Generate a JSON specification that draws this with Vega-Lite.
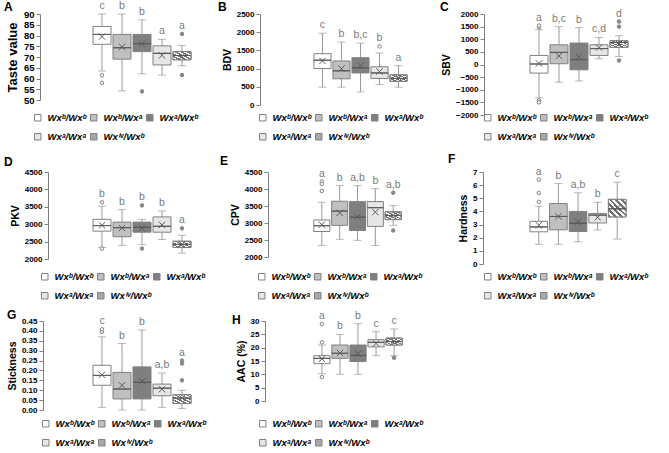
{
"$schema": "https://vega.github.io/schema/vega-lite/v6.json",
"background": "white",
"autosize": {"type": "none"},
"padding": {"left": 91, "top": 14, "right": 578, "bottom": 439},
"columns": 3,
"spacing": {"row": 57, "column": 119},
"bounds": "flush",
"align": {"row": "each", "column": "none"},
"resolve": {"scale": {"fill": "independent", "y": "independent", "x": "independent"}, "legend": {"fill": "independent"}},
"config": {
 "font": "Liberation Sans",
 "view": {"stroke": null},
 "range": {"category": ["#ffffff", "#c0c0c0", "#7f7f7f", "#e6e6e6", "#a8a8a8"]},
 "axis": {"grid": false, "domainColor": "#808080", "tickColor": "#808080", "tickSize": 4, "labelFont": "Liberation Sans", "labelFontSize": 8, "labelFontWeight": "bold", "labelColor": "#000000", "labelOverlap": false, "labelFlush": false, "labelPadding": 2, "titleFont": "Liberation Sans", "titleFontSize": 10.5, "titleFontWeight": "bold", "titleColor": "#000000", "titlePadding": 4},
 "legend": {"orient": "none", "direction": "horizontal", "columns": 3, "gridAlign": "all", "symbolType": "square", "symbolSize": 42, "symbolStrokeColor": "#808080", "symbolStrokeWidth": 1, "labelFont": "Liberation Sans", "labelFontSize": 9.5, "labelFontWeight": "bold", "labelFontStyle": "italic", "labelColor": "#000000", "labelOffset": 5, "columnPadding": -10, "rowPadding": 8, "padding": 0},
 "title": {"anchor": "start", "frame": "group", "font": "Liberation Sans", "fontSize": 12, "fontWeight": "bold", "color": "#000000", "offset": 0}
},
"datasets": {
 "stats": [
  {"p":"A","n":1,"g":"Wx\u1D47/Wx\u1D47","lo":63.5,"q1":75.9,"med":80.5,"q3":84.2,"hi":90,"mean":79.5,"mx":90,"sig":"c"},
  {"p":"A","n":2,"g":"Wx\u1D47/Wx\u1D43","lo":54.2,"q1":69,"med":74.3,"q3":80.5,"hi":90,"mean":74.7,"mx":90,"sig":"b"},
  {"p":"A","n":3,"g":"Wx\u1D43/Wx\u1D47","lo":62.2,"q1":72.5,"med":76.2,"q3":80.5,"hi":87.3,"mean":76.2,"mx":87.3,"sig":"b"},
  {"p":"A","n":4,"g":"Wx\u1D43/Wx\u1D43","lo":61.6,"q1":66.3,"med":71.7,"q3":75.2,"hi":78.2,"mean":70.8,"mx":78.2,"sig":"a"},
  {"p":"A","n":5,"g":"Wx\u2071\u1D5B/Wx\u1D47","lo":66,"q1":68.7,"med":70.7,"q3":72.5,"hi":75.4,"mean":70.3,"mx":80.7,"sig":"a"},
  {"p":"B","n":1,"g":"Wx\u1D47/Wx\u1D47","lo":490,"q1":1000,"med":1230,"q3":1410,"hi":1970,"mean":1210,"mx":1970,"sig":"c"},
  {"p":"B","n":2,"g":"Wx\u1D47/Wx\u1D43","lo":490,"q1":720,"med":940,"q3":1210,"hi":1730,"mean":1000,"mx":1730,"sig":"b"},
  {"p":"B","n":3,"g":"Wx\u1D43/Wx\u1D47","lo":360,"q1":880,"med":1020,"q3":1300,"hi":1700,"mean":1080,"mx":1700,"sig":"b,c"},
  {"p":"B","n":4,"g":"Wx\u1D43/Wx\u1D43","lo":560,"q1":730,"med":880,"q3":1050,"hi":1430,"mean":920,"mx":1610,"sig":"b"},
  {"p":"B","n":5,"g":"Wx\u2071\u1D5B/Wx\u1D47","lo":490,"q1":650,"med":730,"q3":830,"hi":1080,"mean":750,"mx":1080,"sig":"a"},
  {"p":"C","n":1,"g":"Wx\u1D47/Wx\u1D47","lo":-1320,"q1":-340,"med":20,"q3":360,"hi":1380,"mean":40,"mx":1540,"sig":"a"},
  {"p":"C","n":2,"g":"Wx\u1D47/Wx\u1D43","lo":-700,"q1":30,"med":480,"q3":780,"hi":1500,"mean":340,"mx":1500,"sig":"b,c"},
  {"p":"C","n":3,"g":"Wx\u1D43/Wx\u1D47","lo":-650,"q1":-210,"med":190,"q3":850,"hi":1460,"mean":310,"mx":1460,"sig":"b"},
  {"p":"C","n":4,"g":"Wx\u1D43/Wx\u1D43","lo":230,"q1":360,"med":630,"q3":780,"hi":1070,"mean":670,"mx":1070,"sig":"c,d"},
  {"p":"C","n":5,"g":"Wx\u2071\u1D5B/Wx\u1D47","lo":320,"q1":680,"med":870,"q3":940,"hi":1140,"mean":810,"mx":1700,"sig":"d"},
  {"p":"D","n":1,"g":"Wx\u1D47/Wx\u1D47","lo":2330,"q1":2800,"med":2960,"q3":3140,"hi":3520,"mean":2970,"mx":3630,"sig":"b"},
  {"p":"D","n":2,"g":"Wx\u1D47/Wx\u1D43","lo":2390,"q1":2640,"med":2900,"q3":3060,"hi":3420,"mean":2890,"mx":3420,"sig":"b"},
  {"p":"D","n":3,"g":"Wx\u1D43/Wx\u1D47","lo":2420,"q1":2770,"med":2910,"q3":3060,"hi":3140,"mean":2890,"mx":3540,"sig":"b"},
  {"p":"D","n":4,"g":"Wx\u1D43/Wx\u1D43","lo":2560,"q1":2770,"med":2940,"q3":3210,"hi":3380,"mean":2980,"mx":3380,"sig":"b"},
  {"p":"D","n":5,"g":"Wx\u2071\u1D5B/Wx\u1D47","lo":2170,"q1":2330,"med":2420,"q3":2510,"hi":2680,"mean":2420,"mx":2880,"sig":"a"},
  {"p":"E","n":1,"g":"Wx\u1D47/Wx\u1D47","lo":2340,"q1":2750,"med":2920,"q3":3090,"hi":3610,"mean":2950,"mx":4220,"sig":"a"},
  {"p":"E","n":2,"g":"Wx\u1D47/Wx\u1D43","lo":2520,"q1":2930,"med":3350,"q3":3640,"hi":4100,"mean":3300,"mx":4100,"sig":"b"},
  {"p":"E","n":3,"g":"Wx\u1D43/Wx\u1D47","lo":2490,"q1":2780,"med":3170,"q3":3630,"hi":4100,"mean":3180,"mx":4100,"sig":"a,b"},
  {"p":"E","n":4,"g":"Wx\u1D43/Wx\u1D43","lo":2340,"q1":2900,"med":3450,"q3":3630,"hi":4010,"mean":3320,"mx":4010,"sig":"b"},
  {"p":"E","n":5,"g":"Wx\u2071\u1D5B/Wx\u1D47","lo":2930,"q1":3100,"med":3220,"q3":3330,"hi":3510,"mean":3220,"mx":3890,"sig":"a,b"},
  {"p":"F","n":1,"g":"Wx\u1D47/Wx\u1D47","lo":1.5,"q1":2.45,"med":2.82,"q3":3.25,"hi":4.4,"mean":2.95,"mx":6.42,"sig":"a"},
  {"p":"F","n":2,"g":"Wx\u1D47/Wx\u1D43","lo":1.5,"q1":2.6,"med":3.62,"q3":4.6,"hi":6.12,"mean":3.62,"mx":6.12,"sig":"b"},
  {"p":"F","n":3,"g":"Wx\u1D43/Wx\u1D47","lo":1.7,"q1":2.47,"med":3.1,"q3":4.0,"hi":5.42,"mean":3.2,"mx":5.42,"sig":"a,b"},
  {"p":"F","n":4,"g":"Wx\u1D43/Wx\u1D43","lo":2.58,"q1":3.12,"med":3.72,"q3":3.85,"hi":4.7,"mean":3.55,"mx":4.7,"sig":"b"},
  {"p":"F","n":5,"g":"Wx\u2071\u1D5B/Wx\u1D47","lo":1.9,"q1":3.58,"med":4.2,"q3":4.92,"hi":6.22,"mean":4.25,"mx":6.22,"sig":"c"},
  {"p":"G","n":1,"g":"Wx\u1D47/Wx\u1D47","lo":0.013,"q1":0.125,"med":0.175,"q3":0.226,"hi":0.37,"mean":0.178,"mx":0.408,"sig":"c"},
  {"p":"G","n":2,"g":"Wx\u1D47/Wx\u1D43","lo":0,"q1":0.056,"med":0.106,"q3":0.19,"hi":0.336,"mean":0.125,"mx":0.336,"sig":"b"},
  {"p":"G","n":3,"g":"Wx\u1D43/Wx\u1D47","lo":0,"q1":0.056,"med":0.14,"q3":0.218,"hi":0.405,"mean":0.146,"mx":0.405,"sig":"b"},
  {"p":"G","n":4,"g":"Wx\u1D43/Wx\u1D43","lo":0.013,"q1":0.072,"med":0.11,"q3":0.131,"hi":0.187,"mean":0.105,"mx":0.187,"sig":"a,b"},
  {"p":"G","n":5,"g":"Wx\u2071\u1D5B/Wx\u1D47","lo":0.008,"q1":0.033,"med":0.06,"q3":0.077,"hi":0.099,"mean":0.06,"mx":0.25,"sig":"a"},
  {"p":"H","n":1,"g":"Wx\u1D47/Wx\u1D47","lo":10.2,"q1":14,"med":16,"q3":17,"hi":21,"mean":15.8,"mx":28.8,"sig":"a"},
  {"p":"H","n":2,"g":"Wx\u1D47/Wx\u1D43","lo":10,"q1":16,"med":17.9,"q3":21,"hi":25,"mean":18,"mx":25,"sig":"b"},
  {"p":"H","n":3,"g":"Wx\u1D43/Wx\u1D47","lo":10,"q1":14.8,"med":17.1,"q3":21,"hi":29,"mean":17.7,"mx":29,"sig":"b"},
  {"p":"H","n":4,"g":"Wx\u1D43/Wx\u1D43","lo":17,"q1":20.3,"med":22,"q3":23,"hi":26,"mean":21.6,"mx":26,"sig":"c"},
  {"p":"H","n":5,"g":"Wx\u2071\u1D5B/Wx\u1D47","lo":17,"q1":21,"med":22.3,"q3":23.6,"hi":27,"mean":22.4,"mx":27,"sig":"c"}
 ],
 "out": [
  {"p":"A","n":1,"v":61.5},{"p":"A","n":1,"v":58},{"p":"A","n":3,"v":54},{"p":"A","n":5,"v":80.7},{"p":"A","n":5,"v":61.6},
  {"p":"B","n":4,"v":1610},
  {"p":"C","n":1,"v":1470},{"p":"C","n":1,"v":1540},{"p":"C","n":1,"v":-1420},{"p":"C","n":1,"v":-1500},{"p":"C","n":5,"v":1700},{"p":"C","n":5,"v":1500},{"p":"C","n":5,"v":160},
  {"p":"D","n":1,"v":3630},{"p":"D","n":1,"v":2300},{"p":"D","n":3,"v":3540},{"p":"D","n":3,"v":2300},{"p":"D","n":5,"v":2880},
  {"p":"E","n":1,"v":4220},{"p":"E","n":1,"v":4150},{"p":"E","n":1,"v":3940},{"p":"E","n":5,"v":3890},{"p":"E","n":5,"v":2780},
  {"p":"F","n":1,"v":4.72},{"p":"F","n":1,"v":5.4},{"p":"F","n":1,"v":6.42},
  {"p":"G","n":1,"v":0.395},{"p":"G","n":1,"v":0.408},{"p":"G","n":5,"v":0.15},{"p":"G","n":5,"v":0.235},{"p":"G","n":5,"v":0.25},
  {"p":"H","n":1,"v":28.8},{"p":"H","n":1,"v":22},{"p":"H","n":1,"v":9},{"p":"H","n":5,"v":16.2}
 ]
},
"concat": [
 {"width":102,"height":86,"title":{"text":"A","dx":-87,"dy":17},"data":{"name":"stats"},"transform":[{"filter":"datum.p==='A'"}],
  "encoding":{"x":{"field":"n","type":"ordinal","axis":null,"scale":{"paddingInner":0,"paddingOuter":0.05}}},
  "layer":[
   {"mark":{"type":"rule","color":"#999999"},"encoding":{"y":{"field":"lo","type":"quantitative","title":"Taste value","scale":{"domain":[50,90],"nice":false,"zero":false},"axis":{"title":"Taste value","values":[50,55,60,65,70,75,80,85,90],"format":"d","offset":51,"titleFontSize":13,"labelFontSize":9.5}},"y2":{"field":"hi"}}},
   {"mark":{"type":"tick","color":"#999999","size":8,"thickness":1},"encoding":{"y":{"field":"lo","type":"quantitative","title":"Taste value","scale":{"domain":[50,90],"nice":false,"zero":false},"axis":{"title":"Taste value","values":[50,55,60,65,70,75,80,85,90],"format":"d","offset":51,"titleFontSize":13,"labelFontSize":9.5}}}},
   {"mark":{"type":"tick","color":"#999999","size":8,"thickness":1},"encoding":{"y":{"field":"hi","type":"quantitative","title":"Taste value","scale":{"domain":[50,90],"nice":false,"zero":false},"axis":{"title":"Taste value","values":[50,55,60,65,70,75,80,85,90],"format":"d","offset":51,"titleFontSize":13,"labelFontSize":9.5}}}},
   {"mark":{"type":"bar","width":{"band":0.9},"stroke":"#808080","strokeWidth":1},"encoding":{"y":{"field":"q1","type":"quantitative","title":"Taste value","scale":{"domain":[50,90],"nice":false,"zero":false},"axis":{"title":"Taste value","values":[50,55,60,65,70,75,80,85,90],"format":"d","offset":51,"titleFontSize":13,"labelFontSize":9.5}},"y2":{"field":"q3"},"fill":{"field":"g","type":"nominal","sort":null,"scale":{"domain":["Wx\u1D47/Wx\u1D47","Wx\u1D47/Wx\u1D43","Wx\u1D43/Wx\u1D47","Wx\u1D43/Wx\u1D43","Wx\u2071\u1D5B/Wx\u1D47"]},"legend":{"legendX":-58,"legendY":99},"title":null}}},
   {"transform":[{"filter":"datum.n===5"}],"mark":{"type":"bar","width":{"band":0.9},"stroke":"#808080","strokeWidth":1,"fill":{"gradient":"linear","x1":0,"y1":1,"x2":1,"y2":0,"stops":[{"offset":0,"color":"#707070"},{"offset":0.08,"color":"#707070"},{"offset":0.08,"color":"#ffffff"},{"offset":0.1667,"color":"#ffffff"},{"offset":0.1667,"color":"#707070"},{"offset":0.2467,"color":"#707070"},{"offset":0.2467,"color":"#ffffff"},{"offset":0.3333,"color":"#ffffff"},{"offset":0.3333,"color":"#707070"},{"offset":0.4133,"color":"#707070"},{"offset":0.4133,"color":"#ffffff"},{"offset":0.5,"color":"#ffffff"},{"offset":0.5,"color":"#707070"},{"offset":0.58,"color":"#707070"},{"offset":0.58,"color":"#ffffff"},{"offset":0.6667,"color":"#ffffff"},{"offset":0.6667,"color":"#707070"},{"offset":0.7467,"color":"#707070"},{"offset":0.7467,"color":"#ffffff"},{"offset":0.8333,"color":"#ffffff"},{"offset":0.8333,"color":"#707070"},{"offset":0.9133,"color":"#707070"},{"offset":0.9133,"color":"#ffffff"},{"offset":1,"color":"#ffffff"}]}},"encoding":{"y":{"field":"q1","type":"quantitative","title":"Taste value","scale":{"domain":[50,90],"nice":false,"zero":false},"axis":{"title":"Taste value","values":[50,55,60,65,70,75,80,85,90],"format":"d","offset":51,"titleFontSize":13,"labelFontSize":9.5}},"y2":{"field":"q3"}}},
   {"mark":{"type":"bar","width":{"band":0.9},"fillOpacity":0,"stroke":"#5a5a5a","strokeWidth":1},"encoding":{"y":{"field":"med","type":"quantitative","title":"Taste value","scale":{"domain":[50,90],"nice":false,"zero":false},"axis":{"title":"Taste value","values":[50,55,60,65,70,75,80,85,90],"format":"d","offset":51,"titleFontSize":13,"labelFontSize":9.5}},"y2":{"field":"med"}}},
   {"mark":{"type":"point","shape":"M-1,-1L1,1M-1,1L1,-1","size":40,"filled":false,"stroke":"#5a5a5a","strokeWidth":1,"opacity":1},"encoding":{"y":{"field":"mean","type":"quantitative","title":"Taste value","scale":{"domain":[50,90],"nice":false,"zero":false},"axis":{"title":"Taste value","values":[50,55,60,65,70,75,80,85,90],"format":"d","offset":51,"titleFontSize":13,"labelFontSize":9.5}}}},
   {"data":{"name":"out"},"transform":[{"filter":"datum.p==='A'"}],"mark":{"type":"point","shape":"circle","size":12,"filled":true,"stroke":"#808080","strokeWidth":1,"opacity":1},"encoding":{"y":{"field":"v","type":"quantitative","title":"Taste value","scale":{"domain":[50,90],"nice":false,"zero":false},"axis":{"title":"Taste value","values":[50,55,60,65,70,75,80,85,90],"format":"d","offset":51,"titleFontSize":13,"labelFontSize":9.5}},"fill":{"condition":{"test":"datum.n===1||datum.n===4","value":"#ffffff"},"value":"#8c8c8c"}}},
   {"mark":{"type":"text","baseline":"bottom","dy":-3,"color":"#7a7a7a","fontSize":10.5,"font":"Liberation Sans"},"encoding":{"y":{"field":"mx","type":"quantitative","title":"Taste value","scale":{"domain":[50,90],"nice":false,"zero":false},"axis":{"title":"Taste value","values":[50,55,60,65,70,75,80,85,90],"format":"d","offset":51,"titleFontSize":13,"labelFontSize":9.5}},"text":{"field":"sig"}}}
  ]},
 {"width":97,"height":91,"title":{"text":"B","dx":-94,"dy":7.5},"data":{"name":"stats"},"transform":[{"filter":"datum.p==='B'"}],
  "encoding":{"x":{"field":"n","type":"ordinal","axis":null,"scale":{"paddingInner":0,"paddingOuter":0.05}}},
  "layer":[
   {"mark":{"type":"rule","color":"#999999"},"encoding":{"y":{"field":"lo","type":"quantitative","title":"BDV","scale":{"domain":[0,2500],"nice":false,"zero":false},"axis":{"title":"BDV","values":[0,500,1000,1500,2000,2500],"format":"d","offset":52}},"y2":{"field":"hi"}}},
   {"mark":{"type":"tick","color":"#999999","size":8,"thickness":1},"encoding":{"y":{"field":"lo","type":"quantitative","title":"BDV","scale":{"domain":[0,2500],"nice":false,"zero":false},"axis":{"title":"BDV","values":[0,500,1000,1500,2000,2500],"format":"d","offset":52}}}},
   {"mark":{"type":"tick","color":"#999999","size":8,"thickness":1},"encoding":{"y":{"field":"hi","type":"quantitative","title":"BDV","scale":{"domain":[0,2500],"nice":false,"zero":false},"axis":{"title":"BDV","values":[0,500,1000,1500,2000,2500],"format":"d","offset":52}}}},
   {"mark":{"type":"bar","width":{"band":0.9},"stroke":"#808080","strokeWidth":1},"encoding":{"y":{"field":"q1","type":"quantitative","title":"BDV","scale":{"domain":[0,2500],"nice":false,"zero":false},"axis":{"title":"BDV","values":[0,500,1000,1500,2000,2500],"format":"d","offset":52}},"y2":{"field":"q3"},"fill":{"field":"g","type":"nominal","sort":null,"scale":{"domain":["Wx\u1D47/Wx\u1D47","Wx\u1D47/Wx\u1D43","Wx\u1D43/Wx\u1D47","Wx\u1D43/Wx\u1D43","Wx\u2071\u1D5B/Wx\u1D47"]},"legend":{"legendX":-54,"legendY":99},"title":null}}},
   {"transform":[{"filter":"datum.n===5"}],"mark":{"type":"bar","width":{"band":0.9},"stroke":"#808080","strokeWidth":1,"fill":{"gradient":"linear","x1":0,"y1":1,"x2":1,"y2":0,"stops":[{"offset":0,"color":"#707070"},{"offset":0.08,"color":"#707070"},{"offset":0.08,"color":"#ffffff"},{"offset":0.1667,"color":"#ffffff"},{"offset":0.1667,"color":"#707070"},{"offset":0.2467,"color":"#707070"},{"offset":0.2467,"color":"#ffffff"},{"offset":0.3333,"color":"#ffffff"},{"offset":0.3333,"color":"#707070"},{"offset":0.4133,"color":"#707070"},{"offset":0.4133,"color":"#ffffff"},{"offset":0.5,"color":"#ffffff"},{"offset":0.5,"color":"#707070"},{"offset":0.58,"color":"#707070"},{"offset":0.58,"color":"#ffffff"},{"offset":0.6667,"color":"#ffffff"},{"offset":0.6667,"color":"#707070"},{"offset":0.7467,"color":"#707070"},{"offset":0.7467,"color":"#ffffff"},{"offset":0.8333,"color":"#ffffff"},{"offset":0.8333,"color":"#707070"},{"offset":0.9133,"color":"#707070"},{"offset":0.9133,"color":"#ffffff"},{"offset":1,"color":"#ffffff"}]}},"encoding":{"y":{"field":"q1","type":"quantitative","title":"BDV","scale":{"domain":[0,2500],"nice":false,"zero":false},"axis":{"title":"BDV","values":[0,500,1000,1500,2000,2500],"format":"d","offset":52}},"y2":{"field":"q3"}}},
   {"mark":{"type":"bar","width":{"band":0.9},"fillOpacity":0,"stroke":"#5a5a5a","strokeWidth":1},"encoding":{"y":{"field":"med","type":"quantitative","title":"BDV","scale":{"domain":[0,2500],"nice":false,"zero":false},"axis":{"title":"BDV","values":[0,500,1000,1500,2000,2500],"format":"d","offset":52}},"y2":{"field":"med"}}},
   {"mark":{"type":"point","shape":"M-1,-1L1,1M-1,1L1,-1","size":40,"filled":false,"stroke":"#5a5a5a","strokeWidth":1,"opacity":1},"encoding":{"y":{"field":"mean","type":"quantitative","title":"BDV","scale":{"domain":[0,2500],"nice":false,"zero":false},"axis":{"title":"BDV","values":[0,500,1000,1500,2000,2500],"format":"d","offset":52}}}},
   {"data":{"name":"out"},"transform":[{"filter":"datum.p==='B'"}],"mark":{"type":"point","shape":"circle","size":12,"filled":true,"stroke":"#808080","strokeWidth":1,"opacity":1},"encoding":{"y":{"field":"v","type":"quantitative","title":"BDV","scale":{"domain":[0,2500],"nice":false,"zero":false},"axis":{"title":"BDV","values":[0,500,1000,1500,2000,2500],"format":"d","offset":52}},"fill":{"condition":{"test":"datum.n===1||datum.n===4","value":"#ffffff"},"value":"#8c8c8c"}}},
   {"mark":{"type":"text","baseline":"bottom","dy":-3,"color":"#7a7a7a","fontSize":10.5,"font":"Liberation Sans"},"encoding":{"y":{"field":"mx","type":"quantitative","title":"BDV","scale":{"domain":[0,2500],"nice":false,"zero":false},"axis":{"title":"BDV","values":[0,500,1000,1500,2000,2500],"format":"d","offset":52}},"text":{"field":"sig"}}}
  ]},
 {"width":102,"height":101,"title":{"text":"C","dx":-88,"dy":9.9},"data":{"name":"stats"},"transform":[{"filter":"datum.p==='C'"}],
  "encoding":{"x":{"field":"n","type":"ordinal","axis":null,"scale":{"paddingInner":0,"paddingOuter":0.05}}},
  "layer":[
   {"mark":{"type":"rule","color":"#999999"},"encoding":{"y":{"field":"lo","type":"quantitative","title":"SBV","scale":{"domain":[-2000,2000],"nice":false,"zero":false},"axis":{"title":"SBV","values":[-2000,-1500,-1000,-500,0,500,1000,1500,2000],"format":"d","offset":44}},"y2":{"field":"hi"}}},
   {"mark":{"type":"tick","color":"#999999","size":8,"thickness":1},"encoding":{"y":{"field":"lo","type":"quantitative","title":"SBV","scale":{"domain":[-2000,2000],"nice":false,"zero":false},"axis":{"title":"SBV","values":[-2000,-1500,-1000,-500,0,500,1000,1500,2000],"format":"d","offset":44}}}},
   {"mark":{"type":"tick","color":"#999999","size":8,"thickness":1},"encoding":{"y":{"field":"hi","type":"quantitative","title":"SBV","scale":{"domain":[-2000,2000],"nice":false,"zero":false},"axis":{"title":"SBV","values":[-2000,-1500,-1000,-500,0,500,1000,1500,2000],"format":"d","offset":44}}}},
   {"mark":{"type":"bar","width":{"band":0.9},"stroke":"#808080","strokeWidth":1},"encoding":{"y":{"field":"q1","type":"quantitative","title":"SBV","scale":{"domain":[-2000,2000],"nice":false,"zero":false},"axis":{"title":"SBV","values":[-2000,-1500,-1000,-500,0,500,1000,1500,2000],"format":"d","offset":44}},"y2":{"field":"q3"},"fill":{"field":"g","type":"nominal","sort":null,"scale":{"domain":["Wx\u1D47/Wx\u1D47","Wx\u1D47/Wx\u1D43","Wx\u1D43/Wx\u1D47","Wx\u1D43/Wx\u1D43","Wx\u2071\u1D5B/Wx\u1D47"]},"legend":{"legendX":-45,"legendY":99},"title":null}}},
   {"transform":[{"filter":"datum.n===5"}],"mark":{"type":"bar","width":{"band":0.9},"stroke":"#808080","strokeWidth":1,"fill":{"gradient":"linear","x1":0,"y1":1,"x2":1,"y2":0,"stops":[{"offset":0,"color":"#707070"},{"offset":0.08,"color":"#707070"},{"offset":0.08,"color":"#ffffff"},{"offset":0.1667,"color":"#ffffff"},{"offset":0.1667,"color":"#707070"},{"offset":0.2467,"color":"#707070"},{"offset":0.2467,"color":"#ffffff"},{"offset":0.3333,"color":"#ffffff"},{"offset":0.3333,"color":"#707070"},{"offset":0.4133,"color":"#707070"},{"offset":0.4133,"color":"#ffffff"},{"offset":0.5,"color":"#ffffff"},{"offset":0.5,"color":"#707070"},{"offset":0.58,"color":"#707070"},{"offset":0.58,"color":"#ffffff"},{"offset":0.6667,"color":"#ffffff"},{"offset":0.6667,"color":"#707070"},{"offset":0.7467,"color":"#707070"},{"offset":0.7467,"color":"#ffffff"},{"offset":0.8333,"color":"#ffffff"},{"offset":0.8333,"color":"#707070"},{"offset":0.9133,"color":"#707070"},{"offset":0.9133,"color":"#ffffff"},{"offset":1,"color":"#ffffff"}]}},"encoding":{"y":{"field":"q1","type":"quantitative","title":"SBV","scale":{"domain":[-2000,2000],"nice":false,"zero":false},"axis":{"title":"SBV","values":[-2000,-1500,-1000,-500,0,500,1000,1500,2000],"format":"d","offset":44}},"y2":{"field":"q3"}}},
   {"mark":{"type":"bar","width":{"band":0.9},"fillOpacity":0,"stroke":"#5a5a5a","strokeWidth":1},"encoding":{"y":{"field":"med","type":"quantitative","title":"SBV","scale":{"domain":[-2000,2000],"nice":false,"zero":false},"axis":{"title":"SBV","values":[-2000,-1500,-1000,-500,0,500,1000,1500,2000],"format":"d","offset":44}},"y2":{"field":"med"}}},
   {"mark":{"type":"point","shape":"M-1,-1L1,1M-1,1L1,-1","size":40,"filled":false,"stroke":"#5a5a5a","strokeWidth":1,"opacity":1},"encoding":{"y":{"field":"mean","type":"quantitative","title":"SBV","scale":{"domain":[-2000,2000],"nice":false,"zero":false},"axis":{"title":"SBV","values":[-2000,-1500,-1000,-500,0,500,1000,1500,2000],"format":"d","offset":44}}}},
   {"data":{"name":"out"},"transform":[{"filter":"datum.p==='C'"}],"mark":{"type":"point","shape":"circle","size":12,"filled":true,"stroke":"#808080","strokeWidth":1,"opacity":1},"encoding":{"y":{"field":"v","type":"quantitative","title":"SBV","scale":{"domain":[-2000,2000],"nice":false,"zero":false},"axis":{"title":"SBV","values":[-2000,-1500,-1000,-500,0,500,1000,1500,2000],"format":"d","offset":44}},"fill":{"condition":{"test":"datum.n===1||datum.n===4","value":"#ffffff"},"value":"#8c8c8c"}}},
   {"mark":{"type":"text","baseline":"bottom","dy":-3,"color":"#7a7a7a","fontSize":10.5,"font":"Liberation Sans"},"encoding":{"y":{"field":"mx","type":"quantitative","title":"SBV","scale":{"domain":[-2000,2000],"nice":false,"zero":false},"axis":{"title":"SBV","values":[-2000,-1500,-1000,-500,0,500,1000,1500,2000],"format":"d","offset":44}},"text":{"field":"sig"}}}
  ]},
 {"width":102,"height":87,"title":{"text":"D","dx":-87,"dy":5},"data":{"name":"stats"},"transform":[{"filter":"datum.p==='D'"}],
  "encoding":{"x":{"field":"n","type":"ordinal","axis":null,"scale":{"paddingInner":0,"paddingOuter":0.05}}},
  "layer":[
   {"mark":{"type":"rule","color":"#999999"},"encoding":{"y":{"field":"lo","type":"quantitative","title":"PKV","scale":{"domain":[2000,4500],"nice":false,"zero":false},"axis":{"title":"PKV","values":[2000,2500,3000,3500,4000,4500],"format":"d","offset":43}},"y2":{"field":"hi"}}},
   {"mark":{"type":"tick","color":"#999999","size":8,"thickness":1},"encoding":{"y":{"field":"lo","type":"quantitative","title":"PKV","scale":{"domain":[2000,4500],"nice":false,"zero":false},"axis":{"title":"PKV","values":[2000,2500,3000,3500,4000,4500],"format":"d","offset":43}}}},
   {"mark":{"type":"tick","color":"#999999","size":8,"thickness":1},"encoding":{"y":{"field":"hi","type":"quantitative","title":"PKV","scale":{"domain":[2000,4500],"nice":false,"zero":false},"axis":{"title":"PKV","values":[2000,2500,3000,3500,4000,4500],"format":"d","offset":43}}}},
   {"mark":{"type":"bar","width":{"band":0.9},"stroke":"#808080","strokeWidth":1},"encoding":{"y":{"field":"q1","type":"quantitative","title":"PKV","scale":{"domain":[2000,4500],"nice":false,"zero":false},"axis":{"title":"PKV","values":[2000,2500,3000,3500,4000,4500],"format":"d","offset":43}},"y2":{"field":"q3"},"fill":{"field":"g","type":"nominal","sort":null,"scale":{"domain":["Wx\u1D47/Wx\u1D47","Wx\u1D47/Wx\u1D43","Wx\u1D43/Wx\u1D47","Wx\u1D43/Wx\u1D43","Wx\u2071\u1D5B/Wx\u1D47"]},"legend":{"legendX":-51,"legendY":100},"title":null}}},
   {"transform":[{"filter":"datum.n===5"}],"mark":{"type":"bar","width":{"band":0.9},"stroke":"#808080","strokeWidth":1,"fill":{"gradient":"linear","x1":0,"y1":1,"x2":1,"y2":0,"stops":[{"offset":0,"color":"#707070"},{"offset":0.08,"color":"#707070"},{"offset":0.08,"color":"#ffffff"},{"offset":0.1667,"color":"#ffffff"},{"offset":0.1667,"color":"#707070"},{"offset":0.2467,"color":"#707070"},{"offset":0.2467,"color":"#ffffff"},{"offset":0.3333,"color":"#ffffff"},{"offset":0.3333,"color":"#707070"},{"offset":0.4133,"color":"#707070"},{"offset":0.4133,"color":"#ffffff"},{"offset":0.5,"color":"#ffffff"},{"offset":0.5,"color":"#707070"},{"offset":0.58,"color":"#707070"},{"offset":0.58,"color":"#ffffff"},{"offset":0.6667,"color":"#ffffff"},{"offset":0.6667,"color":"#707070"},{"offset":0.7467,"color":"#707070"},{"offset":0.7467,"color":"#ffffff"},{"offset":0.8333,"color":"#ffffff"},{"offset":0.8333,"color":"#707070"},{"offset":0.9133,"color":"#707070"},{"offset":0.9133,"color":"#ffffff"},{"offset":1,"color":"#ffffff"}]}},"encoding":{"y":{"field":"q1","type":"quantitative","title":"PKV","scale":{"domain":[2000,4500],"nice":false,"zero":false},"axis":{"title":"PKV","values":[2000,2500,3000,3500,4000,4500],"format":"d","offset":43}},"y2":{"field":"q3"}}},
   {"mark":{"type":"bar","width":{"band":0.9},"fillOpacity":0,"stroke":"#5a5a5a","strokeWidth":1},"encoding":{"y":{"field":"med","type":"quantitative","title":"PKV","scale":{"domain":[2000,4500],"nice":false,"zero":false},"axis":{"title":"PKV","values":[2000,2500,3000,3500,4000,4500],"format":"d","offset":43}},"y2":{"field":"med"}}},
   {"mark":{"type":"point","shape":"M-1,-1L1,1M-1,1L1,-1","size":40,"filled":false,"stroke":"#5a5a5a","strokeWidth":1,"opacity":1},"encoding":{"y":{"field":"mean","type":"quantitative","title":"PKV","scale":{"domain":[2000,4500],"nice":false,"zero":false},"axis":{"title":"PKV","values":[2000,2500,3000,3500,4000,4500],"format":"d","offset":43}}}},
   {"data":{"name":"out"},"transform":[{"filter":"datum.p==='D'"}],"mark":{"type":"point","shape":"circle","size":12,"filled":true,"stroke":"#808080","strokeWidth":1,"opacity":1},"encoding":{"y":{"field":"v","type":"quantitative","title":"PKV","scale":{"domain":[2000,4500],"nice":false,"zero":false},"axis":{"title":"PKV","values":[2000,2500,3000,3500,4000,4500],"format":"d","offset":43}},"fill":{"condition":{"test":"datum.n===1||datum.n===4","value":"#ffffff"},"value":"#8c8c8c"}}},
   {"mark":{"type":"text","baseline":"bottom","dy":-3,"color":"#7a7a7a","fontSize":10.5,"font":"Liberation Sans"},"encoding":{"y":{"field":"mx","type":"quantitative","title":"PKV","scale":{"domain":[2000,4500],"nice":false,"zero":false},"axis":{"title":"PKV","values":[2000,2500,3000,3500,4000,4500],"format":"d","offset":43}},"text":{"field":"sig"}}}
  ]},
 {"width":91,"height":85,"title":{"text":"E","dx":-92,"dy":4},"data":{"name":"stats"},"transform":[{"filter":"datum.p==='E'"}],
  "encoding":{"x":{"field":"n","type":"ordinal","axis":null,"scale":{"paddingInner":0,"paddingOuter":0.05}}},
  "layer":[
   {"mark":{"type":"rule","color":"#999999"},"encoding":{"y":{"field":"lo","type":"quantitative","title":"CPV","scale":{"domain":[2000,4500],"nice":false,"zero":false},"axis":{"title":"CPV","values":[2000,2500,3000,3500,4000,4500],"format":"d","offset":44}},"y2":{"field":"hi"}}},
   {"mark":{"type":"tick","color":"#999999","size":8,"thickness":1},"encoding":{"y":{"field":"lo","type":"quantitative","title":"CPV","scale":{"domain":[2000,4500],"nice":false,"zero":false},"axis":{"title":"CPV","values":[2000,2500,3000,3500,4000,4500],"format":"d","offset":44}}}},
   {"mark":{"type":"tick","color":"#999999","size":8,"thickness":1},"encoding":{"y":{"field":"hi","type":"quantitative","title":"CPV","scale":{"domain":[2000,4500],"nice":false,"zero":false},"axis":{"title":"CPV","values":[2000,2500,3000,3500,4000,4500],"format":"d","offset":44}}}},
   {"mark":{"type":"bar","width":{"band":0.9},"stroke":"#808080","strokeWidth":1},"encoding":{"y":{"field":"q1","type":"quantitative","title":"CPV","scale":{"domain":[2000,4500],"nice":false,"zero":false},"axis":{"title":"CPV","values":[2000,2500,3000,3500,4000,4500],"format":"d","offset":44}},"y2":{"field":"q3"},"fill":{"field":"g","type":"nominal","sort":null,"scale":{"domain":["Wx\u1D47/Wx\u1D47","Wx\u1D47/Wx\u1D43","Wx\u1D43/Wx\u1D47","Wx\u1D43/Wx\u1D43","Wx\u2071\u1D5B/Wx\u1D47"]},"legend":{"legendX":-55,"legendY":100},"title":null}}},
   {"transform":[{"filter":"datum.n===5"}],"mark":{"type":"bar","width":{"band":0.9},"stroke":"#808080","strokeWidth":1,"fill":{"gradient":"linear","x1":0,"y1":1,"x2":1,"y2":0,"stops":[{"offset":0,"color":"#707070"},{"offset":0.08,"color":"#707070"},{"offset":0.08,"color":"#ffffff"},{"offset":0.1667,"color":"#ffffff"},{"offset":0.1667,"color":"#707070"},{"offset":0.2467,"color":"#707070"},{"offset":0.2467,"color":"#ffffff"},{"offset":0.3333,"color":"#ffffff"},{"offset":0.3333,"color":"#707070"},{"offset":0.4133,"color":"#707070"},{"offset":0.4133,"color":"#ffffff"},{"offset":0.5,"color":"#ffffff"},{"offset":0.5,"color":"#707070"},{"offset":0.58,"color":"#707070"},{"offset":0.58,"color":"#ffffff"},{"offset":0.6667,"color":"#ffffff"},{"offset":0.6667,"color":"#707070"},{"offset":0.7467,"color":"#707070"},{"offset":0.7467,"color":"#ffffff"},{"offset":0.8333,"color":"#ffffff"},{"offset":0.8333,"color":"#707070"},{"offset":0.9133,"color":"#707070"},{"offset":0.9133,"color":"#ffffff"},{"offset":1,"color":"#ffffff"}]}},"encoding":{"y":{"field":"q1","type":"quantitative","title":"CPV","scale":{"domain":[2000,4500],"nice":false,"zero":false},"axis":{"title":"CPV","values":[2000,2500,3000,3500,4000,4500],"format":"d","offset":44}},"y2":{"field":"q3"}}},
   {"mark":{"type":"bar","width":{"band":0.9},"fillOpacity":0,"stroke":"#5a5a5a","strokeWidth":1},"encoding":{"y":{"field":"med","type":"quantitative","title":"CPV","scale":{"domain":[2000,4500],"nice":false,"zero":false},"axis":{"title":"CPV","values":[2000,2500,3000,3500,4000,4500],"format":"d","offset":44}},"y2":{"field":"med"}}},
   {"mark":{"type":"point","shape":"M-1,-1L1,1M-1,1L1,-1","size":40,"filled":false,"stroke":"#5a5a5a","strokeWidth":1,"opacity":1},"encoding":{"y":{"field":"mean","type":"quantitative","title":"CPV","scale":{"domain":[2000,4500],"nice":false,"zero":false},"axis":{"title":"CPV","values":[2000,2500,3000,3500,4000,4500],"format":"d","offset":44}}}},
   {"data":{"name":"out"},"transform":[{"filter":"datum.p==='E'"}],"mark":{"type":"point","shape":"circle","size":12,"filled":true,"stroke":"#808080","strokeWidth":1,"opacity":1},"encoding":{"y":{"field":"v","type":"quantitative","title":"CPV","scale":{"domain":[2000,4500],"nice":false,"zero":false},"axis":{"title":"CPV","values":[2000,2500,3000,3500,4000,4500],"format":"d","offset":44}},"fill":{"condition":{"test":"datum.n===1||datum.n===4","value":"#ffffff"},"value":"#8c8c8c"}}},
   {"mark":{"type":"text","baseline":"bottom","dy":-3,"color":"#7a7a7a","fontSize":10.5,"font":"Liberation Sans"},"encoding":{"y":{"field":"mx","type":"quantitative","title":"CPV","scale":{"domain":[2000,4500],"nice":false,"zero":false},"axis":{"title":"CPV","values":[2000,2500,3000,3500,4000,4500],"format":"d","offset":44}},"text":{"field":"sig"}}}
  ]},
 {"width":100,"height":92,"title":{"text":"F","dx":-80,"dy":3},"data":{"name":"stats"},"transform":[{"filter":"datum.p==='F'"}],
  "encoding":{"x":{"field":"n","type":"ordinal","axis":null,"scale":{"paddingInner":0,"paddingOuter":0.05}}},
  "layer":[
   {"mark":{"type":"rule","color":"#999999"},"encoding":{"y":{"field":"lo","type":"quantitative","title":"Hardness","scale":{"domain":[0,7],"nice":false,"zero":false},"axis":{"title":"Hardness","values":[0,1,2,3,4,5,6,7],"format":"d","offset":45}},"y2":{"field":"hi"}}},
   {"mark":{"type":"tick","color":"#999999","size":8,"thickness":1},"encoding":{"y":{"field":"lo","type":"quantitative","title":"Hardness","scale":{"domain":[0,7],"nice":false,"zero":false},"axis":{"title":"Hardness","values":[0,1,2,3,4,5,6,7],"format":"d","offset":45}}}},
   {"mark":{"type":"tick","color":"#999999","size":8,"thickness":1},"encoding":{"y":{"field":"hi","type":"quantitative","title":"Hardness","scale":{"domain":[0,7],"nice":false,"zero":false},"axis":{"title":"Hardness","values":[0,1,2,3,4,5,6,7],"format":"d","offset":45}}}},
   {"mark":{"type":"bar","width":{"band":0.9},"stroke":"#808080","strokeWidth":1},"encoding":{"y":{"field":"q1","type":"quantitative","title":"Hardness","scale":{"domain":[0,7],"nice":false,"zero":false},"axis":{"title":"Hardness","values":[0,1,2,3,4,5,6,7],"format":"d","offset":45}},"y2":{"field":"q3"},"fill":{"field":"g","type":"nominal","sort":null,"scale":{"domain":["Wx\u1D47/Wx\u1D47","Wx\u1D47/Wx\u1D43","Wx\u1D43/Wx\u1D47","Wx\u1D43/Wx\u1D43","Wx\u2071\u1D5B/Wx\u1D47"]},"legend":{"legendX":-45,"legendY":100},"title":null}}},
   {"transform":[{"filter":"datum.n===5"}],"mark":{"type":"bar","width":{"band":0.9},"stroke":"#808080","strokeWidth":1,"fill":{"gradient":"linear","x1":0,"y1":1,"x2":1,"y2":0,"stops":[{"offset":0,"color":"#707070"},{"offset":0.08,"color":"#707070"},{"offset":0.08,"color":"#ffffff"},{"offset":0.1667,"color":"#ffffff"},{"offset":0.1667,"color":"#707070"},{"offset":0.2467,"color":"#707070"},{"offset":0.2467,"color":"#ffffff"},{"offset":0.3333,"color":"#ffffff"},{"offset":0.3333,"color":"#707070"},{"offset":0.4133,"color":"#707070"},{"offset":0.4133,"color":"#ffffff"},{"offset":0.5,"color":"#ffffff"},{"offset":0.5,"color":"#707070"},{"offset":0.58,"color":"#707070"},{"offset":0.58,"color":"#ffffff"},{"offset":0.6667,"color":"#ffffff"},{"offset":0.6667,"color":"#707070"},{"offset":0.7467,"color":"#707070"},{"offset":0.7467,"color":"#ffffff"},{"offset":0.8333,"color":"#ffffff"},{"offset":0.8333,"color":"#707070"},{"offset":0.9133,"color":"#707070"},{"offset":0.9133,"color":"#ffffff"},{"offset":1,"color":"#ffffff"}]}},"encoding":{"y":{"field":"q1","type":"quantitative","title":"Hardness","scale":{"domain":[0,7],"nice":false,"zero":false},"axis":{"title":"Hardness","values":[0,1,2,3,4,5,6,7],"format":"d","offset":45}},"y2":{"field":"q3"}}},
   {"mark":{"type":"bar","width":{"band":0.9},"fillOpacity":0,"stroke":"#5a5a5a","strokeWidth":1},"encoding":{"y":{"field":"med","type":"quantitative","title":"Hardness","scale":{"domain":[0,7],"nice":false,"zero":false},"axis":{"title":"Hardness","values":[0,1,2,3,4,5,6,7],"format":"d","offset":45}},"y2":{"field":"med"}}},
   {"mark":{"type":"point","shape":"M-1,-1L1,1M-1,1L1,-1","size":40,"filled":false,"stroke":"#5a5a5a","strokeWidth":1,"opacity":1},"encoding":{"y":{"field":"mean","type":"quantitative","title":"Hardness","scale":{"domain":[0,7],"nice":false,"zero":false},"axis":{"title":"Hardness","values":[0,1,2,3,4,5,6,7],"format":"d","offset":45}}}},
   {"data":{"name":"out"},"transform":[{"filter":"datum.p==='F'"}],"mark":{"type":"point","shape":"circle","size":12,"filled":true,"stroke":"#808080","strokeWidth":1,"opacity":1},"encoding":{"y":{"field":"v","type":"quantitative","title":"Hardness","scale":{"domain":[0,7],"nice":false,"zero":false},"axis":{"title":"Hardness","values":[0,1,2,3,4,5,6,7],"format":"d","offset":45}},"fill":{"condition":{"test":"datum.n===1||datum.n===4","value":"#ffffff"},"value":"#8c8c8c"}}},
   {"mark":{"type":"text","baseline":"bottom","dy":-3,"color":"#7a7a7a","fontSize":10.5,"font":"Liberation Sans"},"encoding":{"y":{"field":"mx","type":"quantitative","title":"Hardness","scale":{"domain":[0,7],"nice":false,"zero":false},"axis":{"title":"Hardness","values":[0,1,2,3,4,5,6,7],"format":"d","offset":45}},"text":{"field":"sig"}}}
  ]},
 {"width":102,"height":89,"title":{"text":"G","dx":-84,"dy":9.2},"data":{"name":"stats"},"transform":[{"filter":"datum.p==='G'"}],
  "encoding":{"x":{"field":"n","type":"ordinal","axis":null,"scale":{"paddingInner":0,"paddingOuter":0.05}}},
  "layer":[
   {"mark":{"type":"rule","color":"#999999"},"encoding":{"y":{"field":"lo","type":"quantitative","title":"Stickness","scale":{"domain":[0,0.45],"nice":false,"zero":false},"axis":{"title":"Stickness","values":[0,0.05,0.1,0.15,0.2,0.25,0.3,0.35,0.4,0.45],"format":".2f","offset":48}},"y2":{"field":"hi"}}},
   {"mark":{"type":"tick","color":"#999999","size":8,"thickness":1},"encoding":{"y":{"field":"lo","type":"quantitative","title":"Stickness","scale":{"domain":[0,0.45],"nice":false,"zero":false},"axis":{"title":"Stickness","values":[0,0.05,0.1,0.15,0.2,0.25,0.3,0.35,0.4,0.45],"format":".2f","offset":48}}}},
   {"mark":{"type":"tick","color":"#999999","size":8,"thickness":1},"encoding":{"y":{"field":"hi","type":"quantitative","title":"Stickness","scale":{"domain":[0,0.45],"nice":false,"zero":false},"axis":{"title":"Stickness","values":[0,0.05,0.1,0.15,0.2,0.25,0.3,0.35,0.4,0.45],"format":".2f","offset":48}}}},
   {"mark":{"type":"bar","width":{"band":0.9},"stroke":"#808080","strokeWidth":1},"encoding":{"y":{"field":"q1","type":"quantitative","title":"Stickness","scale":{"domain":[0,0.45],"nice":false,"zero":false},"axis":{"title":"Stickness","values":[0,0.05,0.1,0.15,0.2,0.25,0.3,0.35,0.4,0.45],"format":".2f","offset":48}},"y2":{"field":"q3"},"fill":{"field":"g","type":"nominal","sort":null,"scale":{"domain":["Wx\u1D47/Wx\u1D47","Wx\u1D47/Wx\u1D43","Wx\u1D43/Wx\u1D47","Wx\u1D43/Wx\u1D43","Wx\u2071\u1D5B/Wx\u1D47"]},"legend":{"legendX":-50,"legendY":98},"title":null}}},
   {"transform":[{"filter":"datum.n===5"}],"mark":{"type":"bar","width":{"band":0.9},"stroke":"#808080","strokeWidth":1,"fill":{"gradient":"linear","x1":0,"y1":1,"x2":1,"y2":0,"stops":[{"offset":0,"color":"#707070"},{"offset":0.08,"color":"#707070"},{"offset":0.08,"color":"#ffffff"},{"offset":0.1667,"color":"#ffffff"},{"offset":0.1667,"color":"#707070"},{"offset":0.2467,"color":"#707070"},{"offset":0.2467,"color":"#ffffff"},{"offset":0.3333,"color":"#ffffff"},{"offset":0.3333,"color":"#707070"},{"offset":0.4133,"color":"#707070"},{"offset":0.4133,"color":"#ffffff"},{"offset":0.5,"color":"#ffffff"},{"offset":0.5,"color":"#707070"},{"offset":0.58,"color":"#707070"},{"offset":0.58,"color":"#ffffff"},{"offset":0.6667,"color":"#ffffff"},{"offset":0.6667,"color":"#707070"},{"offset":0.7467,"color":"#707070"},{"offset":0.7467,"color":"#ffffff"},{"offset":0.8333,"color":"#ffffff"},{"offset":0.8333,"color":"#707070"},{"offset":0.9133,"color":"#707070"},{"offset":0.9133,"color":"#ffffff"},{"offset":1,"color":"#ffffff"}]}},"encoding":{"y":{"field":"q1","type":"quantitative","title":"Stickness","scale":{"domain":[0,0.45],"nice":false,"zero":false},"axis":{"title":"Stickness","values":[0,0.05,0.1,0.15,0.2,0.25,0.3,0.35,0.4,0.45],"format":".2f","offset":48}},"y2":{"field":"q3"}}},
   {"mark":{"type":"bar","width":{"band":0.9},"fillOpacity":0,"stroke":"#5a5a5a","strokeWidth":1},"encoding":{"y":{"field":"med","type":"quantitative","title":"Stickness","scale":{"domain":[0,0.45],"nice":false,"zero":false},"axis":{"title":"Stickness","values":[0,0.05,0.1,0.15,0.2,0.25,0.3,0.35,0.4,0.45],"format":".2f","offset":48}},"y2":{"field":"med"}}},
   {"mark":{"type":"point","shape":"M-1,-1L1,1M-1,1L1,-1","size":40,"filled":false,"stroke":"#5a5a5a","strokeWidth":1,"opacity":1},"encoding":{"y":{"field":"mean","type":"quantitative","title":"Stickness","scale":{"domain":[0,0.45],"nice":false,"zero":false},"axis":{"title":"Stickness","values":[0,0.05,0.1,0.15,0.2,0.25,0.3,0.35,0.4,0.45],"format":".2f","offset":48}}}},
   {"data":{"name":"out"},"transform":[{"filter":"datum.p==='G'"}],"mark":{"type":"point","shape":"circle","size":12,"filled":true,"stroke":"#808080","strokeWidth":1,"opacity":1},"encoding":{"y":{"field":"v","type":"quantitative","title":"Stickness","scale":{"domain":[0,0.45],"nice":false,"zero":false},"axis":{"title":"Stickness","values":[0,0.05,0.1,0.15,0.2,0.25,0.3,0.35,0.4,0.45],"format":".2f","offset":48}},"fill":{"condition":{"test":"datum.n===1||datum.n===4","value":"#ffffff"},"value":"#8c8c8c"}}},
   {"mark":{"type":"text","baseline":"bottom","dy":-3,"color":"#7a7a7a","fontSize":10.5,"font":"Liberation Sans"},"encoding":{"y":{"field":"mx","type":"quantitative","title":"Stickness","scale":{"domain":[0,0.45],"nice":false,"zero":false},"axis":{"title":"Stickness","values":[0,0.05,0.1,0.15,0.2,0.25,0.3,0.35,0.4,0.45],"format":".2f","offset":48}},"text":{"field":"sig"}}}
  ]},
 {"width":92,"height":80,"title":{"text":"H","dx":-80,"dy":20.8},"data":{"name":"stats"},"transform":[{"filter":"datum.p==='H'"}],
  "encoding":{"x":{"field":"n","type":"ordinal","axis":null,"scale":{"paddingInner":0,"paddingOuter":0.05}}},
  "layer":[
   {"mark":{"type":"rule","color":"#999999"},"encoding":{"y":{"field":"lo","type":"quantitative","title":"AAC (%)","scale":{"domain":[0,30],"nice":false,"zero":false},"axis":{"title":"AAC (%)","values":[0,5,10,15,20,25,30],"format":"d","offset":47}},"y2":{"field":"hi"}}},
   {"mark":{"type":"tick","color":"#999999","size":8,"thickness":1},"encoding":{"y":{"field":"lo","type":"quantitative","title":"AAC (%)","scale":{"domain":[0,30],"nice":false,"zero":false},"axis":{"title":"AAC (%)","values":[0,5,10,15,20,25,30],"format":"d","offset":47}}}},
   {"mark":{"type":"tick","color":"#999999","size":8,"thickness":1},"encoding":{"y":{"field":"hi","type":"quantitative","title":"AAC (%)","scale":{"domain":[0,30],"nice":false,"zero":false},"axis":{"title":"AAC (%)","values":[0,5,10,15,20,25,30],"format":"d","offset":47}}}},
   {"mark":{"type":"bar","width":{"band":0.9},"stroke":"#808080","strokeWidth":1},"encoding":{"y":{"field":"q1","type":"quantitative","title":"AAC (%)","scale":{"domain":[0,30],"nice":false,"zero":false},"axis":{"title":"AAC (%)","values":[0,5,10,15,20,25,30],"format":"d","offset":47}},"y2":{"field":"q3"},"fill":{"field":"g","type":"nominal","sort":null,"scale":{"domain":["Wx\u1D47/Wx\u1D47","Wx\u1D47/Wx\u1D43","Wx\u1D43/Wx\u1D47","Wx\u1D43/Wx\u1D43","Wx\u2071\u1D5B/Wx\u1D47"]},"legend":{"legendX":-54,"legendY":98},"title":null}}},
   {"transform":[{"filter":"datum.n===5"}],"mark":{"type":"bar","width":{"band":0.9},"stroke":"#808080","strokeWidth":1,"fill":{"gradient":"linear","x1":0,"y1":1,"x2":1,"y2":0,"stops":[{"offset":0,"color":"#707070"},{"offset":0.08,"color":"#707070"},{"offset":0.08,"color":"#ffffff"},{"offset":0.1667,"color":"#ffffff"},{"offset":0.1667,"color":"#707070"},{"offset":0.2467,"color":"#707070"},{"offset":0.2467,"color":"#ffffff"},{"offset":0.3333,"color":"#ffffff"},{"offset":0.3333,"color":"#707070"},{"offset":0.4133,"color":"#707070"},{"offset":0.4133,"color":"#ffffff"},{"offset":0.5,"color":"#ffffff"},{"offset":0.5,"color":"#707070"},{"offset":0.58,"color":"#707070"},{"offset":0.58,"color":"#ffffff"},{"offset":0.6667,"color":"#ffffff"},{"offset":0.6667,"color":"#707070"},{"offset":0.7467,"color":"#707070"},{"offset":0.7467,"color":"#ffffff"},{"offset":0.8333,"color":"#ffffff"},{"offset":0.8333,"color":"#707070"},{"offset":0.9133,"color":"#707070"},{"offset":0.9133,"color":"#ffffff"},{"offset":1,"color":"#ffffff"}]}},"encoding":{"y":{"field":"q1","type":"quantitative","title":"AAC (%)","scale":{"domain":[0,30],"nice":false,"zero":false},"axis":{"title":"AAC (%)","values":[0,5,10,15,20,25,30],"format":"d","offset":47}},"y2":{"field":"q3"}}},
   {"mark":{"type":"bar","width":{"band":0.9},"fillOpacity":0,"stroke":"#5a5a5a","strokeWidth":1},"encoding":{"y":{"field":"med","type":"quantitative","title":"AAC (%)","scale":{"domain":[0,30],"nice":false,"zero":false},"axis":{"title":"AAC (%)","values":[0,5,10,15,20,25,30],"format":"d","offset":47}},"y2":{"field":"med"}}},
   {"mark":{"type":"point","shape":"M-1,-1L1,1M-1,1L1,-1","size":40,"filled":false,"stroke":"#5a5a5a","strokeWidth":1,"opacity":1},"encoding":{"y":{"field":"mean","type":"quantitative","title":"AAC (%)","scale":{"domain":[0,30],"nice":false,"zero":false},"axis":{"title":"AAC (%)","values":[0,5,10,15,20,25,30],"format":"d","offset":47}}}},
   {"data":{"name":"out"},"transform":[{"filter":"datum.p==='H'"}],"mark":{"type":"point","shape":"circle","size":12,"filled":true,"stroke":"#808080","strokeWidth":1,"opacity":1},"encoding":{"y":{"field":"v","type":"quantitative","title":"AAC (%)","scale":{"domain":[0,30],"nice":false,"zero":false},"axis":{"title":"AAC (%)","values":[0,5,10,15,20,25,30],"format":"d","offset":47}},"fill":{"condition":{"test":"datum.n===1||datum.n===4","value":"#ffffff"},"value":"#8c8c8c"}}},
   {"mark":{"type":"text","baseline":"bottom","dy":-3,"color":"#7a7a7a","fontSize":10.5,"font":"Liberation Sans"},"encoding":{"y":{"field":"mx","type":"quantitative","title":"AAC (%)","scale":{"domain":[0,30],"nice":false,"zero":false},"axis":{"title":"AAC (%)","values":[0,5,10,15,20,25,30],"format":"d","offset":47}},"text":{"field":"sig"}}}
  ]}
]
}
